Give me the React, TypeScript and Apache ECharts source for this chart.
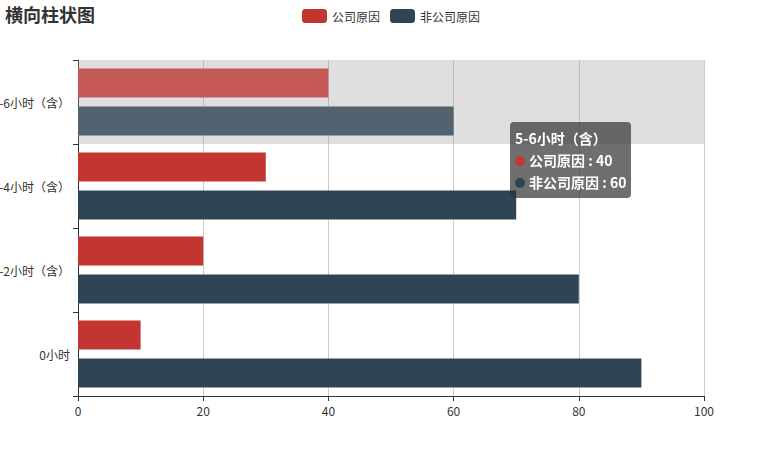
import React, { useEffect, useRef } from "react";
import * as echarts from "echarts";

const categories = ["0小时", "1-2小时（含）", "3-4小时（含）", "5-6小时（含）"];
const companyValues = [10, 20, 30, 40];
const nonCompanyValues = [90, 80, 70, 60];
const seriesNames = ["公司原因", "非公司原因"];
const colors = ["#c23531", "#2f4554"];
const emphasisColors = ["#d9403b", "#364d5e"];

const FONT = "'Noto Sans CJK SC', 'Microsoft YaHei', sans-serif";

export default function App() {
  const ref = useRef<HTMLDivElement>(null);
  useEffect(() => {
    if (!ref.current) return;
    document.body.style.margin = "0";
    const chart = echarts.init(ref.current, null, { renderer: "svg" });
    chart.setOption({
      animation: false,
      textStyle: { fontFamily: FONT },
      title: {
        text: "横向柱状图",
        left: 0,
        top: 0,
        padding: [5, 5],
        textStyle: { fontSize: 18, fontWeight: "bold", color: "#333", fontFamily: FONT },
      },
      legend: {
        data: seriesNames,
        top: 4,
        left: "center",
        itemWidth: 25,
        itemHeight: 14,
        itemGap: 10,
        textStyle: { fontSize: 12, color: "#333", fontFamily: FONT },
      },
      tooltip: {
        trigger: "axis",
        axisPointer: { type: "shadow", shadowStyle: { color: "rgba(150,150,150,0.3)" } },
        backgroundColor: "rgba(50,50,50,0.7)",
        borderWidth: 0,
        padding: [5, 5],
        textStyle: { color: "#fff", fontSize: 14, fontWeight: "bold", fontFamily: FONT },
        extraCssText: "box-shadow:none;border-radius:4px;",
        formatter: (params: any) => {
          const arr = Array.isArray(params) ? params : [params];
          let s = `<div style="line-height:22px">${arr[0].name}`;
          arr.forEach((p: any) => {
            s += `<br/><span style="display:inline-block;margin-right:4px;border-radius:10px;width:10px;height:10px;background-color:${p.color}"></span>${p.seriesName} : ${p.value}`;
          });
          return s + "</div>";
        },
      },
      grid: { left: 78, right: 78, top: 60, bottom: 59, containLabel: false, outerBoundsMode: "none" },
      xAxis: {
        type: "value",
        min: 0,
        max: 100,
        interval: 20,
        axisLine: { show: true, lineStyle: { color: "#333" } },
        axisTick: { show: true, lineStyle: { color: "#333" } },
        axisLabel: { color: "#333", fontSize: 12, fontFamily: FONT },
        splitLine: { show: true, lineStyle: { color: "#ccc" } },
      },
      yAxis: {
        type: "category",
        data: categories,
        axisLine: { show: true, lineStyle: { color: "#333" } },
        axisTick: { show: true, lineStyle: { color: "#333" } },
        axisLabel: { color: "#333", fontSize: 12, fontFamily: FONT },
        splitLine: { show: false },
      },
      series: [
        {
          name: seriesNames[0],
          type: "bar",
          data: companyValues,
          barGap: "30%",
          barCategoryGap: "20%",
          itemStyle: { color: colors[0] },
          emphasis: { itemStyle: { color: emphasisColors[0] } },
        },
        {
          name: seriesNames[1],
          type: "bar",
          data: nonCompanyValues,
          barGap: "30%",
          barCategoryGap: "20%",
          itemStyle: { color: colors[1] },
          emphasis: { itemStyle: { color: emphasisColors[1] } },
        },
      ],
    });
    chart.dispatchAction({ type: "showTip", x: 490, y: 102 });
    chart.dispatchAction({ type: "highlight", seriesIndex: [0, 1], dataIndex: 3 });
    return () => chart.dispose();
  }, []);
  return (
    <div
      ref={ref}
      style={{ position: "absolute", left: 0, top: 0, width: 782, height: 455 }}
    />
  );
}
